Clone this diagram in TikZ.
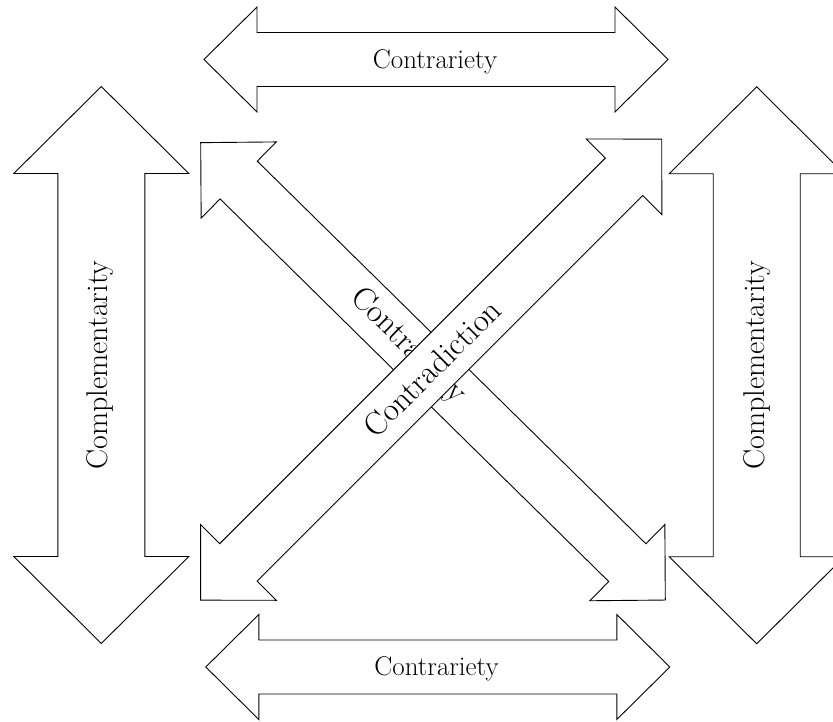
\documentclass[tikz,border=0pt]{standalone}
\begin{document}
\begin{tikzpicture}[x=1pt,y=1pt,
  arrowline/.style={draw=black,fill=white,line width=0.9pt,line join=miter},
  % double-headed block arrow: length, shaft width, head width, head length
  pics/dblarrow/.style n args={4}{code={
    \path[arrowline]
      (-#1/2,0) -- (-#1/2+#4,#3/2) -- (-#1/2+#4,#2/2) -- (#1/2-#4,#2/2)
      -- (#1/2-#4,#3/2) -- (#1/2,0) -- (#1/2-#4,-#3/2) -- (#1/2-#4,-#2/2)
      -- (-#1/2+#4,-#2/2) -- (-#1/2+#4,-#3/2) -- cycle;
  }},
  hlabel/.style={inner sep=0pt,font=\fontsize{27}{32}\selectfont},
  vlabel/.style={inner sep=0pt,font=\fontsize{30}{36}\selectfont},
  dlabel/.style={inner sep=0pt,font=\fontsize{32.5}{39}\selectfont}
]
\useasboundingbox (0,0) rectangle (833,722);
\fill[white] (0,0) rectangle (833,722);
\clip (0,0) rectangle (833,722);

% horizontal arrows (top and bottom)
\pic at (436,662.5) {dblarrow={464}{54}{105}{53}};
\node[hlabel] (ctop) at (435,660) {Contrariety};
\pic at (437.8,55) {dblarrow={464}{54}{105}{53}};
\node[hlabel] (cbot) at (436.5,53) {Contrariety};

% vertical arrows (left and right)
\pic[rotate=90] at (101.3,357) {dblarrow={557}{87}{175}{87}};
\node[vlabel,rotate=90] (cleft) at (100.5,357) {Complementarity};
\pic[rotate=90] at (756.7,356.7) {dblarrow={557}{87}{175}{87}};
\node[vlabel,rotate=90] (cright) at (757,356.7) {Complementarity};

% diagonal arrows
\pic[rotate=-44.55] at (433,350.65) {dblarrow={652}{53}{107}{53.3}};
\node[dlabel,rotate=-44.55] (cdiag) at (408,376) {Contrariety};
\pic[rotate=45] at (431.2,352.35) {dblarrow={652}{53}{107}{53.3}};
\node[dlabel,rotate=45] (cdiction) at (432,354) {Contradiction};
\end{tikzpicture}
\end{document}
